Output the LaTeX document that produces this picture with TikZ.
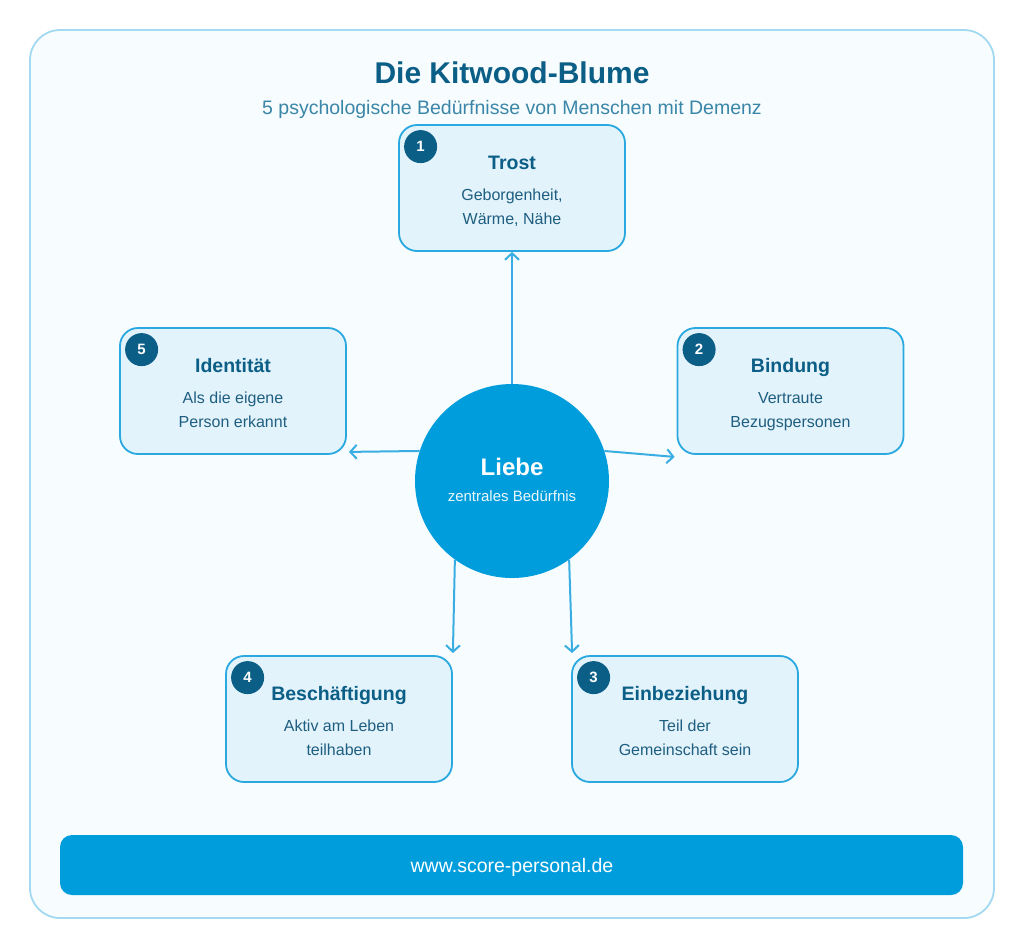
\documentclass[tikz,border=0pt]{standalone}
\usepackage{fontspec}
\setmainfont{Liberation Sans}
\usetikzlibrary{arrows.meta,calc}

\definecolor{deepblue}{HTML}{0B5E86}
\definecolor{subblue}{HTML}{3A86A8}
\definecolor{bodyblue}{HTML}{1E5E80}
\definecolor{skyblue}{HTML}{009DDC}
\definecolor{boxfill}{HTML}{E3F3FB}
\definecolor{boxline}{HTML}{2AA9E0}
\definecolor{frameline}{HTML}{A3D9F1}
\definecolor{framefill}{HTML}{F7FCFE}
\definecolor{linkblue}{HTML}{3AAEE2}

\tikzset{
  needbox/.style={draw=boxline, line width=1.8pt, fill=boxfill, rounded corners=18pt,
    minimum width=226pt, minimum height=126pt, inner sep=0pt},
  badge/.style={circle, fill=deepblue, minimum size=33pt, inner sep=0pt,
    text=white, font=\fontsize{15}{17}\selectfont\bfseries},
  needtitle/.style={anchor=base, text=deepblue, font=\fontsize{19.5}{22}\selectfont\bfseries, inner sep=0pt},
  needtext/.style={anchor=base, text=bodyblue, font=\fontsize{16}{19}\selectfont, inner sep=0pt},
  link/.style={draw=linkblue, line width=2pt, -{Straight Barb[length=6.5pt,width=14pt,line width=2pt]}},
}

% box: name, centre x, centre y, number, title, line 1, line 2
\newcommand\needbox[7]{%
  \node[needbox] (#1) at (#2,#3) {};
  \node[badge] (#1-num) at ($(#1.north west)+(22.5,22.5)$) {#4};
  \node[needtitle] (#1-title) at ($(#1.north)+(0,45.5)$) {#5};
  \node[needtext] (#1-a) at ($(#1.north)+(0,76.5)$) {#6};
  \node[needtext] (#1-b) at ($(#1.north)+(0,100.5)$) {#7};
}

\begin{document}
\begin{tikzpicture}[x=1pt,y=-1pt]
\useasboundingbox (0,0) rectangle (1024,948);
\fill[white] (0,0) rectangle (1024,948);

% outer frame
\draw[draw=frameline, line width=1.8pt, fill=framefill, rounded corners=30pt] (30,30) rectangle (994,918);

% heading
\node[anchor=base, text=deepblue, font=\fontsize{30}{34}\selectfont\bfseries, inner sep=0pt] (title) at (512,83) {Die Kitwood-Blume};
\node[anchor=base, text=subblue, font=\fontsize{19.5}{22}\selectfont, inner sep=0pt] (subtitle) at (512,114) {5 psychologische Bedürfnisse von Menschen mit Demenz};

% the five needs
\needbox{trost}{512}{188}{1}{Trost}{Geborgenheit,}{Wärme, Nähe}
\needbox{bind}{790.5}{391}{2}{Bindung}{Vertraute}{Bezugspersonen}
\needbox{einb}{685}{719}{3}{Einbeziehung}{Teil der}{Gemeinschaft sein}
\needbox{besch}{339}{719}{4}{Beschäftigung}{Aktiv am Leben}{teilhaben}
\needbox{ident}{233}{391}{5}{Identität}{Als die eigene}{Person erkannt}

% centre
\node[circle, fill=skyblue, minimum size=194pt, inner sep=0pt] (liebe) at (512,481) {};
\node[anchor=base, text=white, font=\fontsize{24}{28}\selectfont\bfseries, inner sep=0pt] (liebe-title) at (512,475.5) {Liebe};
\node[anchor=base, text=white!92!skyblue, font=\fontsize{15}{18}\selectfont, inner sep=0pt] (liebe-text) at (512,501) {zentrales Bedürfnis};

% connectors
\draw[link] (liebe.north) -- (trost.south);
\draw[link] (liebe.162) -- ($(ident.south east)+(2,-3)$);
\draw[link] (liebe.18) -- ($(bind.south west)+(-2,2)$);
\draw[link] (liebe.234) -- ($(besch.north east)+(0,-2)$);
\draw[link] (liebe.306) -- ($(einb.north west)+(1,-2)$);

% footer
\node[fill=skyblue, rounded corners=12pt, minimum width=903pt, minimum height=60pt, inner sep=0pt] (footer) at (511.5,865) {};
\node[anchor=base, text=white, font=\fontsize{19.5}{22}\selectfont, inner sep=0pt] (web) at (512,872) {www.score-personal.de};
\end{tikzpicture}
\end{document}
